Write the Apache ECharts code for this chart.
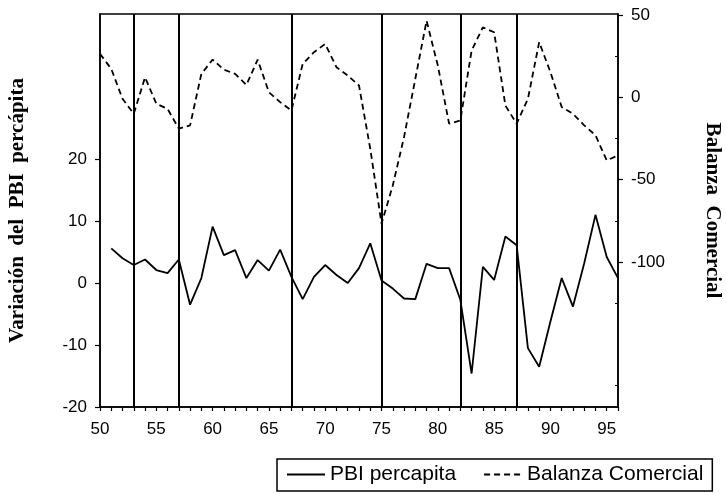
<!DOCTYPE html>
<html>
<head>
<meta charset="utf-8">
<script src="https://cdn.jsdelivr.net/npm/echarts@6/dist/echarts.min.js"></script>
<style>
html,body{margin:0;padding:0;background:#fff;}
#main{width:726px;height:494px;}
</style>
</head>
<body>
<div id="main"></div>
<script>
// años (eje X)
var tickYears = [50,51,52,53,54,55,56,57,58,59,60,61,62,63,64,65,66,67,68,69,70,71,72,73,74,75,76,77,78,79,80,81,82,83,84,85,86,87,88,89,90,91,92,93,94,95,96];
var labelYears = [50,55,60,65,70,75,80,85,90,95];

// Variación del PBI percápita (eje izquierdo), 1951-1996
var pbiYears = [51,52,53,54,55,56,57,58,59,60,61,62,63,64,65,66,67,68,69,70,71,72,73,74,75,76,77,78,79,80,81,82,83,84,85,86,87,88,89,90,91,92,93,94,95,96];
var pbi = [5.6,4.0,2.9,3.8,2.1,1.6,3.8,-3.5,0.8,9.1,4.5,5.3,0.8,3.7,2.0,5.4,1.0,-2.6,1.0,2.9,1.3,0.0,2.4,6.4,0.4,-0.9,-2.5,-2.6,3.1,2.4,2.4,-2.7,-14.6,2.6,0.5,7.5,6.1,-10.5,-13.5,-6.2,0.8,-3.8,3.2,11.0,4.2,0.8];

// Balanza Comercial (eje derecho), 1950-1996
var bcYears = tickYears;
var bc = [26.4,17.3,-0.9,-10,12.2,-3.9,-7,-19,-17,14.2,22.9,16.8,14.2,7.5,22.9,3.1,-2.9,-8,20.3,27.4,32.4,18.3,13.2,7.2,-31.2,-76.7,-53.5,-24.1,11.2,46.5,19.3,-16,-14,28.4,42.5,39.5,-5,-16,-0.9,33.5,15.3,-5.9,-10,-17,-23,-38.3,-35.3];

// líneas verticales
var breakYears = [53,57,67,75,82,87];

var leftTicks = [-20,-10,0,10,20];
var rightTicks = [-100,-50,0,50];
var rightMinor = [-175,-125,-75,-25,25];

var pair = function (xs, ys) {
    var res = [];
    for (var i = 0; i < xs.length; i++) {
        res.push([xs[i], ys[i]]);
    }
    return res;
};

var black = '#000';
var sans = '"Liberation Sans", Arial, sans-serif';
var serif = '"Liberation Serif", "Times New Roman", serif';

var option = {
    animation: false,
    backgroundColor: '#fff',
    textStyle: { fontFamily: sans, color: black },
    grid: {
        left: 100, right: 108, top: 14, bottom: 87,
        outerBoundsMode: 'none', containLabel: false,
        show: true, borderColor: black, borderWidth: 1.5
    },
    legend: {
        left: 277, top: 459,
        padding: [5, 9, 6, 9],
        borderColor: black, borderWidth: 1.5, borderRadius: 0,
        itemWidth: 38, itemHeight: 14, itemGap: 27,
        itemStyle: { opacity: 0 },
        textStyle: { fontSize: 21, color: black, fontFamily: sans },
        data: ['PBI percapita', 'Balanza Comercial']
    },
    xAxis: {
        type: 'value', min: 50, max: 96,
        axisLine: { onZero: false, lineStyle: { color: black, width: 1.5 } },
        axisTick: { customValues: tickYears, length: 4, lineStyle: { color: black, width: 1.2 } },
        axisLabel: { customValues: labelYears, fontSize: 17, color: black, margin: 14 },
        splitLine: { show: false }
    },
    yAxis: [
        {
            type: 'value', position: 'left', min: -20, max: 43.4,
            name: 'Variación  del  PBI  percápita',
            nameLocation: 'middle', nameRotate: 90, nameGap: 72,
            nameTextStyle: { fontFamily: serif, fontWeight: 'bold', fontSize: 21, color: black },
            axisLine: { show: true, onZero: false, lineStyle: { color: black, width: 1.5 } },
            axisTick: { show: true, customValues: leftTicks, length: 5, lineStyle: { color: black, width: 1.2 } },
            axisLabel: { customValues: leftTicks, fontSize: 17, color: black, margin: 13 },
            splitLine: { show: false }
        },
        {
            type: 'value', position: 'right', min: -188, max: 50.6,
            name: 'Balanza  Comercial',
            nameLocation: 'middle', nameRotate: -90, nameGap: 84,
            nameTextStyle: { fontFamily: serif, fontWeight: 'bold', fontSize: 21, color: black },
            axisLine: { show: true, onZero: false, lineStyle: { color: black, width: 1.5 } },
            axisTick: { show: true, customValues: rightTicks, length: 5, lineStyle: { color: black, width: 1.2 } },
            axisLabel: { customValues: rightTicks, fontSize: 17, color: black, margin: 13 },
            splitLine: { show: false }
        },
        {
            type: 'value', position: 'right', min: -188, max: 50.6,
            axisLine: { show: false, onZero: false },
            axisTick: { show: true, inside: true, customValues: rightMinor, length: 3, lineStyle: { color: black, width: 1 } },
            axisLabel: { show: false },
            splitLine: { show: false }
        }
    ],
    series: [
        {
            name: 'PBI percapita',
            type: 'line',
            yAxisIndex: 0,
            data: pair(pbiYears, pbi),
            symbol: 'none',
            lineStyle: { color: black, width: 1.8 },
            itemStyle: { color: black },
            markLine: {
                silent: true,
                symbol: ['none', 'none'],
                label: { show: false },
                lineStyle: { color: black, width: 2, type: 'solid' },
                data: breakYears.map(function (y) { return { xAxis: y }; })
            }
        },
        {
            name: 'Balanza Comercial',
            type: 'line',
            yAxisIndex: 1,
            data: pair(bcYears, bc),
            symbol: 'none',
            lineStyle: { color: black, width: 1.8, type: [6, 4] },
            itemStyle: { color: black }
        }
    ]
};

var chart = echarts.init(document.getElementById('main'));
chart.setOption(option);
</script>
</body>
</html>
